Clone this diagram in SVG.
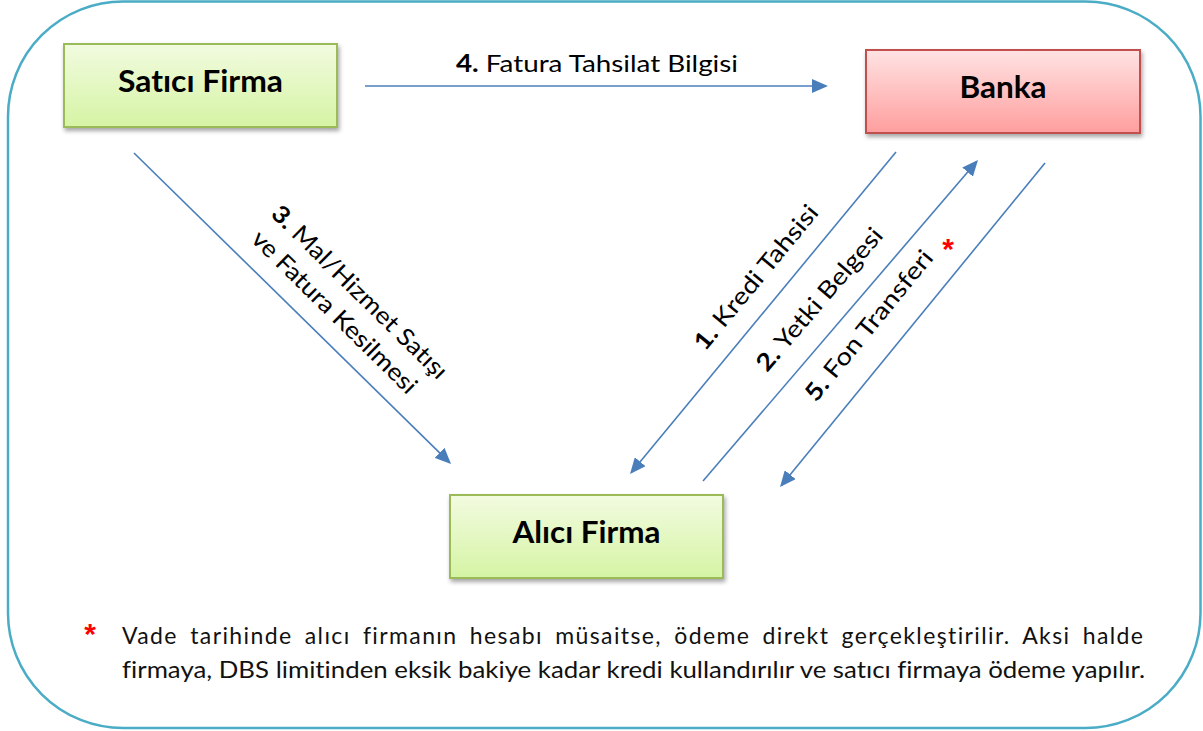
<svg xmlns="http://www.w3.org/2000/svg" width="1203" height="731" viewBox="0 0 1203 731">
<style>
text{font-variant-ligatures:none}
.frame{fill:#fff;stroke:#4BACC6;stroke-width:2.5}
.gbox{fill:url(#gGreen);stroke:#9BBB59;stroke-width:2;filter:url(#shadow)}
.rbox{fill:url(#gRed);stroke:#C0504D;stroke-width:2;filter:url(#shadow)}
.nlabel{font-family:Lato,"Liberation Sans",sans-serif;font-weight:bold;font-size:31px;fill:#000;text-anchor:middle}
.elabel{font-family:Lato,"Liberation Sans",sans-serif;font-size:24px;fill:#000}
.note{font-family:Lato,"Liberation Sans",sans-serif;font-size:23px;fill:#111}
.conn{fill:none;stroke:#4A7EBB;stroke-width:1.6;marker-end:url(#ah)}
.b{font-weight:bold}
.ast{font-family:"Liberation Sans",sans-serif;font-weight:bold;font-size:30px;fill:#FF0000;text-anchor:middle}
</style>
<defs>
<linearGradient id="gGreen" x1="0" y1="0" x2="0" y2="1">
<stop offset="0" stop-color="#F2FBE0"/>
<stop offset="1" stop-color="#D5F4A4"/>
</linearGradient>
<linearGradient id="gRed" x1="0" y1="0" x2="0" y2="1">
<stop offset="0" stop-color="#FFE3E3"/>
<stop offset="1" stop-color="#FF9E9E"/>
</linearGradient>
<filter id="shadow" x="-10%" y="-20%" width="125%" height="150%">
<feDropShadow dx="1.5" dy="3" stdDeviation="2" flood-color="#000" flood-opacity="0.35"/>
</filter>
<marker id="ah" viewBox="0 0 16 14" refX="14" refY="7" markerWidth="16" markerHeight="14" orient="auto" markerUnits="userSpaceOnUse">
<path d="M0,0 L16,7 L0,14 z" fill="#4A7EBB"/>
</marker>
</defs>

<rect class="frame" x="8" y="1.5" width="1192.5" height="726.5" rx="115" ry="115"/>

<g id="connectors">
<path id="c4" class="conn" d="M365,86 L826,86"/>
<path id="c3" class="conn" d="M134,153 L449.6,462.6"/>
<path id="c1" class="conn" d="M896,152 L631.3,472.5"/>
<path id="c2" class="conn" d="M703,481 L976.7,161.5"/>
<path id="c5" class="conn" d="M1045,163 L781.3,485.5"/>
</g>

<g id="edge-labels">
<text class="elabel" x="597" y="72" text-anchor="middle" textLength="282" lengthAdjust="spacingAndGlyphs"><tspan class="b">4.</tspan> Fatura Tahsilat Bilgisi</text>
<g transform="translate(354,298) rotate(44.5)">
<text class="elabel" x="0" y="0" text-anchor="middle" textLength="236" lengthAdjust="spacingAndGlyphs"><tspan class="b">3.</tspan> Mal/Hizmet Satışı</text>
<text class="elabel" x="-4" y="32" text-anchor="middle" textLength="221" lengthAdjust="spacingAndGlyphs">ve Fatura Kesilmesi</text>
</g>
<text class="elabel" transform="translate(762.3,282.6) rotate(-50.4)" x="0" y="0" text-anchor="middle" textLength="180" lengthAdjust="spacingAndGlyphs"><tspan class="b">1.</tspan> Kredi Tahsisi</text>
<text class="elabel" transform="translate(825.6,304.6) rotate(-49.4)" x="0" y="0" text-anchor="middle" textLength="180" lengthAdjust="spacingAndGlyphs"><tspan class="b">2.</tspan> Yetki Belgesi</text>
<text class="elabel" transform="translate(875.2,330.6) rotate(-50.7)" x="0" y="0" text-anchor="middle" textLength="187" lengthAdjust="spacingAndGlyphs"><tspan class="b">5.</tspan> Fon Transferi</text>
<text class="ast" x="948" y="259">*</text>
</g>

<g id="node-satici">
<rect class="gbox" x="64" y="44" width="273" height="83"/>
<text class="nlabel" x="200.5" y="92" textLength="165" lengthAdjust="spacingAndGlyphs">Satıcı Firma</text>
</g>

<g id="node-banka">
<rect class="rbox" x="866" y="50" width="274" height="83"/>
<text class="nlabel" x="1003" y="98" textLength="87" lengthAdjust="spacingAndGlyphs">Banka</text>
</g>

<g id="node-alici">
<rect class="gbox" x="450" y="495" width="273" height="83"/>
<text class="nlabel" x="586.5" y="543" textLength="148" lengthAdjust="spacingAndGlyphs">Alıcı Firma</text>
</g>

<g id="footnote">
<text class="ast" x="90" y="644">*</text>
<text class="note" x="122" y="644" word-spacing="5" textLength="1021" lengthAdjust="spacing">Vade tarihinde alıcı firmanın hesabı müsaitse, ödeme direkt gerçekleştirilir. Aksi halde</text>
<text class="note" x="122" y="678" textLength="1023" lengthAdjust="spacingAndGlyphs">firmaya, DBS limitinden eksik bakiye kadar kredi kullandırılır ve satıcı firmaya ödeme yapılır.</text>
</g>
</svg>
